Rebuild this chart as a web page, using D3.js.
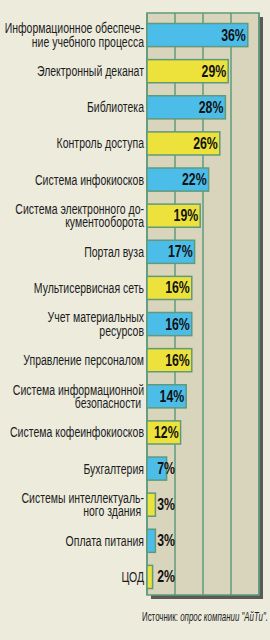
<!DOCTYPE html>
<html>
<head>
<meta charset="utf-8">
<script src="https://cdn.jsdelivr.net/npm/d3@7/dist/d3.min.js"></script>
<style>
  html, body { margin: 0; padding: 0; background: #ecebdc; }
  svg { display: block; }
  .label { font-family: "Liberation Sans", Arial, sans-serif; font-size: 15px; fill: #1c1c1c; }
  .value { font-family: "Liberation Sans", Arial, sans-serif; font-size: 16px; font-weight: bold; fill: #111; }
  .source { font-family: "Liberation Sans", Arial, sans-serif; font-size: 12px; fill: #1c1c1c; }
</style>
</head>
<body>
<div id="chart"></div>
<script>
"use strict";

var categories = [
  ['Информационное обеспече-', 'ние учебного процесса'],
  ['Электронный деканат'],
  ['Библиотека'],
  ['Контроль доступа'],
  ['Система инфокиосков'],
  ['Система электронного до-', 'кументооборота'],
  ['Портал вуза'],
  ['Мультисервисная сеть'],
  ['Учет материальных', 'ресурсов'],
  ['Управление персоналом'],
  ['Система информационной', 'безопасности\u00a0'],
  ['Система кофеинфокиосков'],
  ['Бухгалтерия'],
  ['Системы интеллектуаль-', 'ного здания\u00a0'],
  ['Оплата питания'],
  ['ЦОД']
];
var values = [36, 29, 28, 26, 22, 19, 17, 16, 16, 16, 14, 12, 7, 3, 3, 2];
var gridTicks = [0, 10, 20, 30, 40];
var sourceLabel = 'Источник: ';
var sourceText = 'опрос компании "АйТи".';

var WIDTH = 270;
var HEIGHT = 640;
var plot = { left: 147, right: 259, top: 13, bottom: 595 };
var SHADOW = 4;
var NARROW = 0.7;
var BLUE = '#4cbde9';
var YELLOW = '#ede23b';
var EDGE = '#5f9a7c';

var svg = d3.select('#chart').append('svg')
  .attr('width', WIDTH)
  .attr('height', HEIGHT);

var x = d3.scaleLinear().domain([0, 40]).range([plot.left, plot.right]);
var y = d3.scaleBand().domain(d3.range(values.length)).range([17, 595]).paddingInner(0.36).paddingOuter(0.18);

// shadow + plot background
svg.append('rect')
  .attr('x', plot.left + SHADOW).attr('y', plot.top + SHADOW)
  .attr('width', plot.right - plot.left).attr('height', plot.bottom - plot.top)
  .attr('fill', '#5a5a55');
svg.append('rect')
  .attr('x', plot.left).attr('y', plot.top)
  .attr('width', plot.right - plot.left).attr('height', plot.bottom - plot.top)
  .attr('fill', '#d9d5bc')
  .attr('stroke', EDGE).attr('stroke-width', 1.5);

// vertical grid
svg.append('g').selectAll('line')
  .data(gridTicks).enter().append('line')
  .attr('x1', function (d) { return x(d); })
  .attr('x2', function (d) { return x(d); })
  .attr('y1', plot.top).attr('y2', plot.bottom)
  .attr('stroke', EDGE).attr('stroke-width', 1.5);

// bars
svg.append('g').selectAll('rect')
  .data(values).enter().append('rect')
  .attr('x', x(0))
  .attr('y', function (d, i) { return y(i); })
  .attr('width', function (d) { return x(d) - x(0); })
  .attr('height', y.bandwidth())
  .attr('fill', function (d, i) { return i % 2 === 0 ? BLUE : YELLOW; })
  .attr('stroke', EDGE).attr('stroke-width', 1.5);

// value labels (condensed by a horizontal scale)
svg.append('g').selectAll('text')
  .data(values).enter().append('text')
  .attr('class', 'value')
  .attr('text-anchor', 'end')
  .attr('transform', function (d, i) {
    var tx = Math.max(x(d) - 2, x(10));
    var ty = y(i) + y.bandwidth() / 2 + 5.5;
    return 'translate(' + tx + ',' + ty + ') scale(0.77,1)';
  })
  .text(function (d) { return d + '%'; });

// category labels
var labels = svg.append('g')
  .attr('transform', 'translate(144,0) scale(' + NARROW + ',1)')
  .selectAll('text')
  .data(categories).enter().append('text')
  .attr('class', 'label')
  .attr('text-anchor', 'end')
  .attr('y', function (d, i) { return y(i) + y.bandwidth() / 2 + 5 - (d.length - 1) * 6.75; });
labels.selectAll('tspan')
  .data(function (d) { return d; }).enter().append('tspan')
  .attr('x', 0)
  .attr('dy', function (d, i) { return i === 0 ? 0 : 13.5; })
  .text(function (d) { return d; });

// source note
var src = svg.append('text')
  .attr('class', 'source')
  .attr('text-anchor', 'end')
  .attr('transform', 'translate(268,621) scale(0.66,1)');
src.append('tspan').text(sourceLabel);
src.append('tspan').attr('font-style', 'italic').text(sourceText);
</script>
</body>
</html>
